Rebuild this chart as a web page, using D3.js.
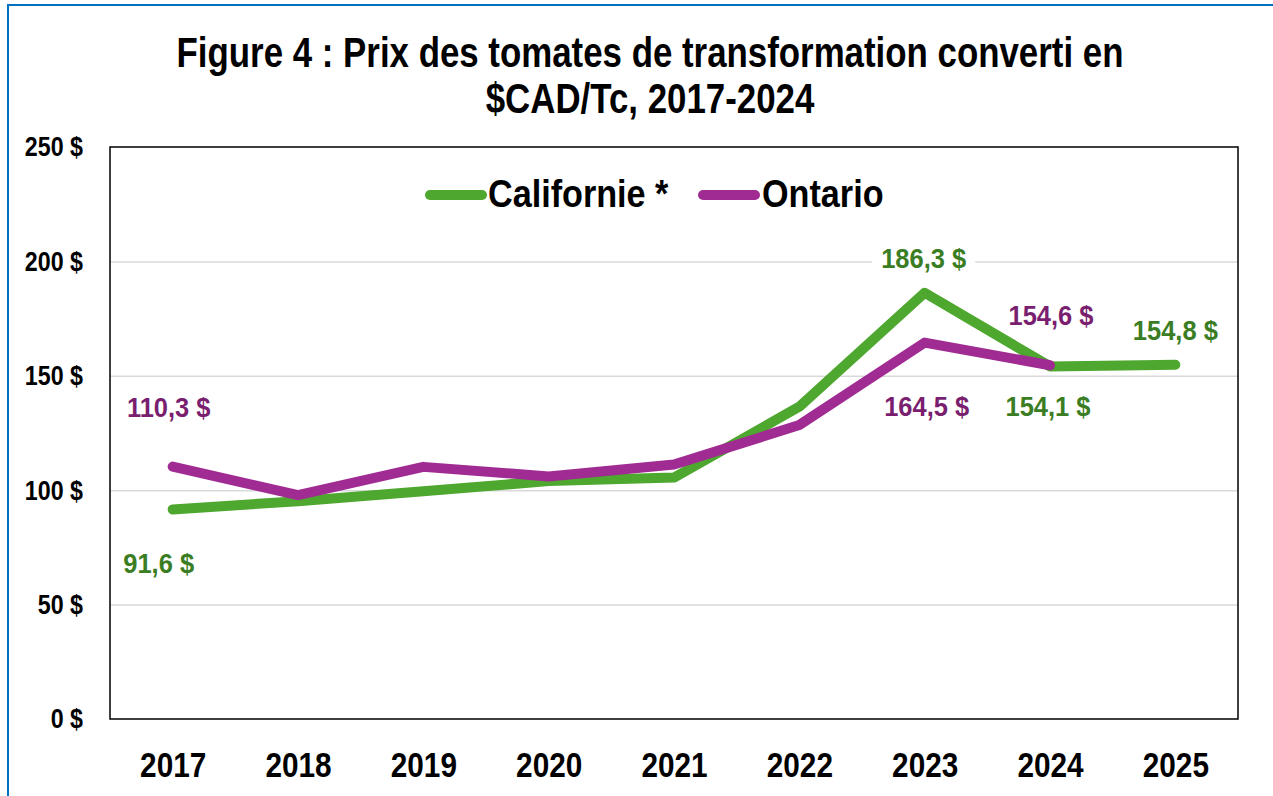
<!DOCTYPE html>
<html lang="fr">
  <head>
    <meta charset="utf-8" />
    <title>Figure 4 : Prix des tomates de transformation</title>
    <script src="https://d3js.org/d3.v7.min.js"></script>
    <style>
      body { margin: 0; background: #fff; }
      svg { display: block; font-family: 'Liberation Sans', Arial, sans-serif; font-weight: bold; }
    </style>
  </head>
  <body>
    <svg width="1273" height="796"></svg>
  </body>
  <script>
    // Data
    const years = ['2017', '2018', '2019', '2020', '2021', '2022', '2023', '2024', '2025'];
    const californie = [91.6, 95.2, 99.5, 104.0, 105.5, 136.5, 186.3, 154.1, 154.8];
    const ontario = [110.3, 97.8, 110.2, 106.0, 111.2, 128.5, 164.5, 154.6, null];
    const yTicks = [0, 50, 100, 150, 200, 250];

    const fmt = (v) => d3.format('.1f')(v).replace('.', ',') + ' $';

    // no narrow font available, so squeeze the text horizontally
    function condense(sel, s) {
      sel.each(function () {
        const t = d3.select(this);
        const tx = +t.attr('x') || 0, ty = +t.attr('y') || 0;
        t.attr('x', 0).attr('y', 0).attr('transform', `translate(${tx},${ty}) scale(${s},1)`);
      });
    }

    const svg = d3.select('svg');

    // outer frame
    svg.append('rect')
      .attr('x', 8).attr('y', 5)
      .attr('width', 1300).attr('height', 820)
      .attr('fill', 'none').attr('stroke', '#0070c0').attr('stroke-width', 2);

    // Title
    const titleLines = ['Figure 4 : Prix des tomates de transformation converti en', '$CAD/Tc, 2017-2024'];
    svg.selectAll('text.title')
      .data(titleLines)
      .join('text')
      .attr('class', 'title')
      .attr('x', 650)
      .attr('y', (d, i) => 67 + i * 46)
      .attr('text-anchor', 'middle')
      .attr('font-size', 42)
      .attr('fill', '#000')
      .text(d => d)
      .call(condense, 0.83);

    // Scales
    const pLeft = 110, pRight = 1238, pTop = 147, pBottom = 719;
    const x = d3.scalePoint().domain(years).range([pLeft, pRight]).padding(0.5);
    const y = d3.scaleLinear().domain([0, 250]).range([pBottom, pTop]);

    // Grid lines
    svg.append('g')
      .attr('transform', `translate(${pLeft},0)`)
      .call(d3.axisLeft(y).tickValues(yTicks.slice(1, -1)).tickSize(-(pRight - pLeft)).tickFormat(''))
      .call(g => g.select('.domain').remove())
      .call(g => g.selectAll('line').attr('stroke', '#d9d9d9').attr('stroke-width', 1.5));

    // Plot area border
    svg.append('rect')
      .attr('x', pLeft).attr('y', pTop)
      .attr('width', pRight - pLeft).attr('height', pBottom - pTop)
      .attr('fill', 'none').attr('stroke', '#000').attr('stroke-width', 1.5);

    // Y axis labels
    svg.append('g')
      .attr('transform', `translate(${pLeft},0)`)
      .call(d3.axisLeft(y).tickValues(yTicks).tickSize(0).tickPadding(27).tickFormat(d => d + ' $'))
      .call(g => g.select('.domain').remove())
      .call(g => g.selectAll('text')
        .attr('font-size', 28).attr('font-family', null).attr('font-weight', 'bold').attr('fill', '#000')
        .call(condense, 0.83));

    // X axis labels
    svg.append('g')
      .attr('transform', `translate(0,${pBottom})`)
      .call(d3.axisBottom(x).tickSize(0).tickPadding(33))
      .call(g => g.select('.domain').remove())
      .call(g => g.selectAll('text')
        .attr('font-size', 35).attr('font-family', null).attr('font-weight', 'bold').attr('fill', '#000')
        .call(condense, 0.85));

    // Lines
    const series = [
      { name: 'Californie *', values: californie, color: '#4ea72e', label: '#3b7d23' },
      { name: 'Ontario', values: ontario, color: '#a02b93', label: '#7a1f6f' }
    ];
    const line = d3.line()
      .defined(d => d.v !== null)
      .x(d => x(d.year))
      .y(d => y(d.v));

    series.forEach(s => {
      svg.append('path')
        .datum(years.map((year, i) => ({ year, v: s.values[i] })))
        .attr('d', line)
        .attr('fill', 'none')
        .attr('stroke', s.color)
        .attr('stroke-width', 10)
        .attr('stroke-linecap', 'round')
        .attr('stroke-linejoin', 'round');
    });

    // Data labels (only some points are labelled)
    const LABEL_SQ = 0.91;
    const labels = [
      { s: 1, i: 0, dx: -4, dy: -50 },
      { s: 0, i: 0, dx: -14, dy: 64 },
      { s: 0, i: 6, dx: -1, dy: -25, box: true },
      { s: 1, i: 6, dx: 2, dy: 73 },
      { s: 1, i: 7, dx: 1, dy: -40 },
      { s: 0, i: 7, dx: -2, dy: 50 },
      { s: 0, i: 8, dx: 0, dy: -25 }
    ];
    labels.forEach(l => {
      const s = series[l.s];
      const cx = x(years[l.i]) + l.dx;
      const cy = y(s.values[l.i]) + l.dy;
      const t = svg.append('text')
        .attr('x', cx).attr('y', cy)
        .attr('text-anchor', 'middle')
        .attr('font-size', 28)
        .attr('fill', s.label)
        .text(fmt(s.values[l.i]))
        .call(condense, LABEL_SQ);
      if (l.box) {
        const b = t.node().getBBox();
        svg.insert('rect', () => t.node())
          .attr('x', cx + b.x * LABEL_SQ - 9).attr('y', cy + b.y)
          .attr('width', b.width * LABEL_SQ + 18).attr('height', b.height)
          .attr('fill', '#fff');
      }
    });

    // Legend
    const legend = svg.append('g');
    const legendItems = [
      { s: series[0], x0: 430, x1: 482, tx: 488 },
      { s: series[1], x0: 703, x1: 755, tx: 762 }
    ];
    legendItems.forEach(it => {
      legend.append('line')
        .attr('x1', it.x0).attr('x2', it.x1)
        .attr('y1', 195).attr('y2', 195)
        .attr('stroke', it.s.color).attr('stroke-width', 10)
        .attr('stroke-linecap', 'round');
      legend.append('text')
        .attr('x', it.tx).attr('y', 207)
        .attr('font-size', 38)
        .attr('fill', '#000')
        .text(it.s.name)
        .call(condense, 0.9);
    });
  </script>
</html>
